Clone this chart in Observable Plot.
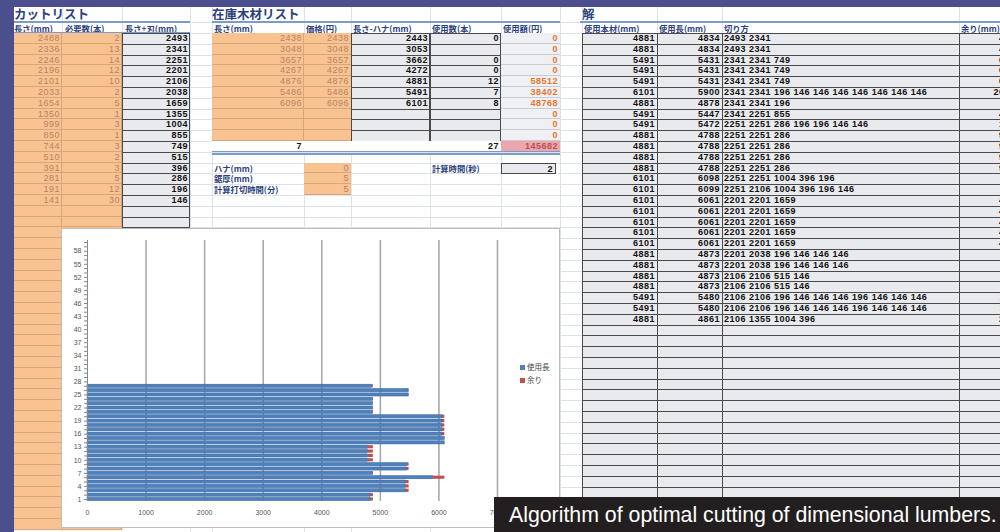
<!DOCTYPE html>
<html><head><meta charset="utf-8">
<script src="https://cdn.jsdelivr.net/npm/d3@7"></script>
<script src="https://cdn.jsdelivr.net/npm/@observablehq/plot@0.6"></script>
<style>
body{margin:0;background:#fff}
#root{position:relative;width:1000px;height:532px;overflow:hidden;background:#fff;font-family:"Noto Sans CJK JP",sans-serif}
.a{position:absolute;box-sizing:border-box;white-space:nowrap;overflow:visible}
</style></head><body><div id="root"></div>
<script>
// ---------- data ----------
const cutTitle = "カットリスト";
const cutHeaders = ["長さ(mm)", "必要数(本)", "長さ+刃(mm)"];
const cutLength = [2488, 2336, 2246, 2196, 2101, 2033, 1654, 1350, 999, 850, 744, 510, 391, 281, 191, 141];
const cutCount = [2, 13, 14, 12, 10, 2, 5, 1, 3, 1, 3, 2, 3, 5, 12, 30];
const cutWithBlade = [2493, 2341, 2251, 2201, 2106, 2038, 1659, 1355, 1004, 855, 749, 515, 396, 286, 196, 146];

const stockTitle = "在庫木材リスト";
const stockHeaders = ["長さ(mm)", "価格(円)", "長さ-ハナ(mm)", "使用数(本)", "使用額(円)"];
const stockLength = [2438, 3048, 3657, 4267, 4876, 5486, 6096];
const stockPrice = [2438, 3048, 3657, 4267, 4876, 5486, 6096];
const stockNet = [2443, 3053, 3662, 4272, 4881, 5491, 6101];
const stockUsed = [0, "", 0, 0, 12, 7, 8];
const stockAmount = [0, 0, 0, 0, 58512, 38402, 48768, 0, 0, 0];
const stockTotals = {kinds: 7, count: 27, amount: 145682};
const paramLabels = ["ハナ(mm)", "鋸厚(mm)", "計算打切時間(分)"];
const paramValues = [0, 5, 5];
const calcTimeLabel = "計算時間(秒)";
const calcTimeValue = 2;

const solTitle = "解";
const solHeaders = ["使用本材(mm)", "使用長(mm)", "切り方", "余り(mm)"];
const solStock = [4881, 4881, 5491, 5491, 5491, 6101, 4881, 5491, 5491, 4881, 4881, 4881, 4881, 6101, 6101, 6101, 6101, 6101, 6101, 6101, 4881, 4881, 4881, 4881, 5491, 5491, 4881];
const solUsed = [4834, 4834, 5431, 5431, 5431, 5900, 4878, 5447, 5472, 4788, 4788, 4788, 4788, 6098, 6099, 6061, 6061, 6061, 6061, 6061, 4873, 4873, 4873, 4873, 5480, 5480, 4861];
const solPattern = [
  "2493 2341", "2493 2341", "2341 2341 749", "2341 2341 749", "2341 2341 749",
  "2341 2341 196 146 146 146 146 146 146 146", "2341 2341 196", "2341 2251 855",
  "2251 2251 286 196 196 146 146", "2251 2251 286", "2251 2251 286", "2251 2251 286", "2251 2251 286",
  "2251 2251 1004 396 196", "2251 2106 1004 396 196 146",
  "2201 2201 1659", "2201 2201 1659", "2201 2201 1659", "2201 2201 1659", "2201 2201 1659",
  "2201 2038 196 146 146 146", "2201 2038 196 146 146 146", "2106 2106 515 146", "2106 2106 515 146",
  "2106 2106 196 146 146 146 196 146 146 146", "2106 2106 196 146 146 146 196 146 146 146",
  "2106 1355 1004 396"];
const solRemain = [47, 47, 60, 60, 60, 201, 3, 44, 19, 93, 93, 93, 93, 3, 2, 40, 40, 40, 40, 40, 8, 8, 8, 8, 11, 11, 20];

const seriesNames = ["使用長", "余り"];
const seriesColors = ["#4f81bd", "#c0504d"];
const yCategories = d3.range(60, 0, -1);
const xTicks = [0, 1000, 2000, 3000, 4000, 5000, 6000, 7000];
const caption = "Algorithm of optimal cutting of dimensional lumbers.";

// ---------- helpers ----------
const root = document.getElementById("root");
function el(x, y, w, h, css, text) {
  const d = document.createElement("div");
  d.className = "a";
  Object.assign(d.style, {left: x + "px", top: y + "px", width: w + "px", height: h + "px"}, css || {});
  if (text != null) d.textContent = text;
  root.appendChild(d);
  return d;
}
const RH = 10.8, Y0 = 33;
const rowY = i => Y0 + i * RH;
const ORANGE = "#f8c291", GREY = "#e8eaee", DARK = "#4a4a4a", BLUE = "#2d3f80";
const numCss = (color, bold) => ({textAlign: "right", paddingRight: "2px", fontSize: "9px", letterSpacing: "0.5px", lineHeight: RH + "px",
  fontFamily: "'Liberation Sans',Arial,sans-serif", fontWeight: bold ? "bold" : "normal", color});
const hdrCss = {fontSize: "8.3px", lineHeight: "10px", color: BLUE, fontWeight: "bold"};
const titleCss = {fontSize: "12.5px", lineHeight: "14px", color: BLUE, fontWeight: "bold"};

// sheet light grid
for (let k = -1; k < 46; k++) el(0, rowY(k), 1000, 1, {background: "#dde3ec"});
[62, 122, 190, 212, 304, 351, 430, 501, 560, 582, 657, 722, 959].forEach(x => el(x, 0, 1, 532, {background: "#dde3ec"}));

// frame bands
el(0, 0, 1000, 7, {background: "#4b4f8e"});

// ---------- cut list ----------
el(14, 7, 120, 14, titleCss, cutTitle);
el(14, 21, 176, 2, {background: "#7d9bc8"});
const cutCols = [[14, 62], [62, 122], [122, 190]];
cutHeaders.forEach((h, j) => el(cutCols[j][0] + (j ? 3 : 0), 23, cutCols[j][1] - cutCols[j][0] - 3, 10, hdrCss, h));
el(14, Y0 - 1, 176, 1, {background: "#7d9bc8"});
// orange columns to bottom
for (let i = 0; i < 46; i++) {
  el(14, rowY(i), 48, RH, {background: ORANGE, borderBottom: "1px solid #d9a57a", borderRight: "1px solid #d9a57a"});
  el(62, rowY(i), 60, RH, {background: ORANGE, borderBottom: "1px solid #d9a57a", borderRight: "1px solid #d9a57a"});
}
for (let i = 0; i < 18; i++) {
  el(122, rowY(i), 68, RH + 1, {background: GREY, border: "1px solid " + DARK});
}
cutLength.forEach((v, i) => {
  el(14, rowY(i), 48, RH, numCss("#b98262"), v);
  el(62, rowY(i), 60, RH, numCss("#b98262"), cutCount[i]);
  el(122, rowY(i), 68, RH, numCss("#111", true), cutWithBlade[i]);
});
el(0, 0, 14, 532, {background: "#4b4f8e"});

// ---------- stock list ----------
el(212, 7, 150, 14, titleCss, stockTitle);
el(212, 21, 348, 2, {background: "#7d9bc8"});
const stCols = [[212, 304], [304, 351], [351, 430], [430, 501], [501, 560]];
stockHeaders.forEach((h, j) => el(stCols[j][0] + 2, 23, stCols[j][1] - stCols[j][0] - 2, 10, hdrCss, h));
for (let i = 0; i < 10; i++) {
  el(212, rowY(i), 92, RH, {background: ORANGE, borderBottom: "1px solid #d9a57a", borderRight: "1px solid #d9a57a"});
  el(304, rowY(i), 47, RH, {background: ORANGE, borderBottom: "1px solid #d9a57a"});
  el(351, rowY(i), 79, RH + 1, {background: GREY, border: "1px solid " + DARK});
  el(430, rowY(i), 71, RH + 1, {background: GREY, border: "1px solid " + DARK});
  el(501, rowY(i), 59, RH, {background: "#eef0f3", borderBottom: "1px solid #c8ccd4"});
}
stockLength.forEach((v, i) => {
  el(212, rowY(i), 92, RH, numCss("#b98262"), v);
  el(304, rowY(i), 47, RH, numCss("#b98262"), stockPrice[i]);
  el(351, rowY(i), 79, RH, numCss("#111", true), stockNet[i]);
  el(430, rowY(i), 71, RH, numCss("#111", true), stockUsed[i]);
});
stockAmount.forEach((v, i) => el(501, rowY(i), 59, RH, numCss("#e8762d", true), v));
el(212, rowY(10), 348, RH, {background: "#fff"});
el(212, rowY(10), 92, RH, numCss("#111", true), stockTotals.kinds);
el(430, rowY(10), 71, RH, numCss("#111", true), stockTotals.count);
el(501, rowY(10), 59, RH, Object.assign(numCss("#c0504d", true), {background: "#eca6ae"}), stockTotals.amount);
el(212, rowY(11) - 1, 348, 1.5, {background: "#7d9bc8"});
el(212, rowY(11) + 1.5, 348, 1.5, {background: "#7d9bc8"});
paramLabels.forEach((lab, i) => {
  el(212, rowY(12 + i), 92, RH, Object.assign({}, hdrCss, {lineHeight: RH + "px", paddingLeft: "2px"}), lab);
  el(304, rowY(12 + i), 47, RH, Object.assign({background: ORANGE, borderBottom: "1px solid #d9a57a"}, numCss("#b98262")), paramValues[i]);
});
el(430, rowY(12), 71, RH, Object.assign({}, hdrCss, {lineHeight: RH + "px", paddingLeft: "2px"}), calcTimeLabel);
el(501, rowY(12), 55, RH + 1, Object.assign({background: GREY, border: "1px solid " + DARK}, numCss("#111", true)), calcTimeValue);

// ---------- solution ----------
el(582, 7, 40, 14, titleCss, solTitle);
el(580, 21, 420, 2, {background: "#7d9bc8"});
const soCols = [[582, 657], [657, 722], [722, 959], [959, 1012]];
solHeaders.forEach((h, j) => el(soCols[j][0] + 2, 23, soCols[j][1] - soCols[j][0] - 2, 10, hdrCss, h));
for (let i = 0; i < 44; i++) {
  soCols.forEach(([a, b]) => el(a, rowY(i), b - a + 1, RH + 1, {background: GREY, border: "1px solid " + DARK}));
}
solStock.forEach((v, i) => {
  el(582, rowY(i), 75, RH, numCss("#111", true), v);
  el(657, rowY(i), 65, RH, numCss("#111", true), solUsed[i]);
  el(722, rowY(i), 237, RH, Object.assign(numCss("#111", true), {textAlign: "left", paddingLeft: "2px"}), solPattern[i]);
  el(959, rowY(i), 53, RH, numCss("#111", true), solRemain[i]);
});

// ---------- chart ----------
const chartBox = el(61, 228, 499, 300, {background: "#fff", border: "1px solid #bdbdbd"});
const bars = solUsed.flatMap((u, i) => [
  {row: i + 1, kind: seriesNames[0], value: u},
  {row: i + 1, kind: seriesNames[1], value: solRemain[i]}
]);
const chart = Plot.plot({
  width: 497, height: 298,
  marginLeft: 25, marginTop: 11, marginBottom: 26, marginRight: 62,
  style: {fontSize: "7px", fontFamily: "'Liberation Sans',Arial,sans-serif", color: "#555", background: "transparent"},
  x: {domain: [0, 7000], label: null},
  y: {type: "band", domain: yCategories, paddingInner: 0.28, paddingOuter: 0.1, round: false, label: null},
  color: {domain: seriesNames, range: seriesColors},
  marks: [
    Plot.ruleX(xTicks.slice(1), {stroke: "#a9a9a9", strokeWidth: 1.6}),
    Plot.barX(bars, Plot.stackX({y: "row", x: "value", fill: "kind"})),
    Plot.barX(bars, Plot.stackX({y: "row", x: "value", z: "kind", filter: d => d.kind === seriesNames[0], stroke: "#2e5e98", strokeWidth: 0.5, fill: "none"})),
    Plot.axisY({ticks: yCategories, tickSize: 3, tickPadding: 3, tickFormat: d => (d - 1) % 3 === 0 ? d : "", stroke: "#888"}),
    Plot.axisX({ticks: xTicks, tickSize: 0, tickPadding: 9, tickFormat: d => String(d)}),
    Plot.ruleX([0], {stroke: "#888", strokeWidth: 1})
  ]
});
chart.style.position = "absolute";
chart.style.left = "0px";
chart.style.top = "0px";
chartBox.appendChild(chart);
// legend
seriesNames.forEach((n, i) => {
  el(520, 365 + i * 13, 5, 5, {background: seriesColors[i]});
  el(527, 361 + i * 13, 40, 12, {fontSize: "7.5px", lineHeight: "12px", color: "#444"}, n);
});

// caption
el(494, 497, 506, 35, {background: "#231f20", color: "#fff", fontFamily: "'Liberation Sans',Arial,sans-serif",
  fontSize: "21.3px", lineHeight: "36px", paddingLeft: "15px", overflow: "hidden"}, caption);
</script></body></html>
